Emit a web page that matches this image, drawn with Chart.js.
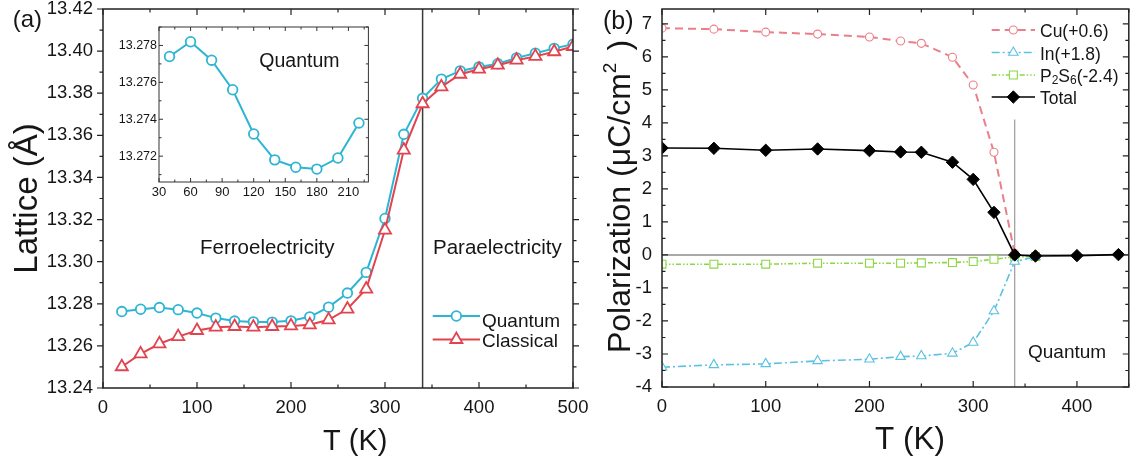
<!DOCTYPE html>
<html>
<head>
<meta charset="utf-8">
<title>Lattice and polarization vs temperature</title>
<script src="https://cdn.jsdelivr.net/npm/chart.js@4.4.1/dist/chart.umd.min.js"></script>
<style>
  html, body { margin: 0; padding: 0; background: #fff; }
  #figure { position: relative; width: 1136px; height: 461px; overflow: hidden; background: #fff; }
  canvas { position: absolute; }
  #latticeChart { left: 0; top: 0; }
  #insetChart { left: 110px; top: 20px; z-index: 2; }
  #polChart { left: 590px; top: 0; }
</style>
</head>
<body>
<div id="figure">
  <canvas id="latticeChart" width="590" height="461"></canvas>
  <canvas id="insetChart" width="265" height="185"></canvas>
  <canvas id="polChart" width="546" height="461"></canvas>
</div>
<script>
const FONT = 'Arial, "Liberation Sans", sans-serif';
const INK = '#161616';

// ---- (a) lattice parameter vs temperature ----
const tempLattice = [20, 40, 60, 80, 100, 120, 140, 160, 180, 200, 220, 240, 260,
                     280, 300, 320, 340, 360, 380, 400, 420, 440, 460, 480, 500];
const latticeQuantum = [13.2763, 13.2774, 13.2782, 13.2772, 13.2756, 13.2732, 13.2718, 13.2714, 13.2713,
                        13.2719, 13.2738, 13.2784, 13.2851, 13.2949, 13.3205, 13.3605, 13.3776, 13.3867,
                        13.3906, 13.3925, 13.3940, 13.3968, 13.3990, 13.4013, 13.4033];
const latticeClassical = [13.2501, 13.2562, 13.2610, 13.2644, 13.2673, 13.2689, 13.2692, 13.2689, 13.2692,
                          13.2695, 13.2700, 13.2724, 13.2775, 13.2870, 13.3150, 13.3530, 13.3750, 13.3830,
                          13.3890, 13.3914, 13.3933, 13.3957, 13.3975, 13.3997, 13.4022];
const latticeXTicks = [0, 100, 200, 300, 400, 500];
const latticeYTicks = [13.24, 13.26, 13.28, 13.30, 13.32, 13.34, 13.36, 13.38, 13.40, 13.42];

// inset: low-temperature part of the quantum curve
const insetTempRange = [40, 220];
const insetXTicks = [30, 60, 90, 120, 150, 180, 210];
const insetYTicks = [13.272, 13.274, 13.276, 13.278];

// ---- (b) polarization vs temperature ----
const tempPol  = [0, 50, 100, 150, 200, 230, 250, 280, 300, 320, 340, 360, 400, 440];
const polCu    = [6.87, 6.84, 6.75, 6.69, 6.60, 6.48, 6.41, 5.99, 5.15, 3.11, 0.05];
const polIn    = [-3.40, -3.33, -3.30, -3.21, -3.16, -3.08, -3.06, -2.98, -2.65, -1.70, -0.20, -0.06];
const polP2S6  = [-0.28, -0.28, -0.28, -0.25, -0.25, -0.25, -0.24, -0.23, -0.20, -0.13, -0.06, -0.05];
const polTotal = [3.24, 3.23, 3.17, 3.21, 3.16, 3.12, 3.11, 2.81, 2.29, 1.29, 0.00, -0.03, -0.02, 0.01];
const polXTicks = [0, 100, 200, 300, 400];
const polYTicks = [-4, -3, -2, -1, 0, 1, 2, 3, 4, 5, 6, 7];

const transitionT = 340;     // ferro/para transition
const transitionTop = 4.1;   // upper end of the transition marker in (b)

const C_QUANTUM = '#2db5d3';
const C_CLASSICAL = '#e2444f';
const C_CU = '#ea7f89';
const C_IN = '#5cc1e2';
const C_P2S6 = '#8bd744';

const pts = (xs, ys) => ys.map((y, i) => ({ x: xs[i], y }));

// midpoints between major ticks, kept inside [min, max]
function minorTicks(majors, min, max) {
  const step = majors[1] - majors[0];
  const out = [];
  for (let v = majors[0] - step / 2; v <= max + 1e-9; v += step) {
    if (v >= min - 1e-9) out.push(v);
  }
  return out;
}

function axis(min, max, ticks, fmt, size, pad, fontSize) {
  return {
    type: 'linear', min, max,
    grid: { display: false, drawTicks: false },
    border: { display: false },
    afterBuildTicks: s => { s.ticks = ticks.map(v => ({ value: v })); },
    afterFit: s => {
      if (s.isHorizontal()) s.height = size; else s.width = size;
      s.paddingLeft = s.paddingRight = s.paddingTop = s.paddingBottom = 0;
    },
    ticks: {
      padding: pad, color: INK, autoSkip: false, maxRotation: 0,
      font: { family: FONT, size: fontSize, lineHeight: 1 },
      callback: fmt
    }
  };
}

// box around the plot area plus major/minor tick marks on all four sides
function drawFrame(chart, o) {
  const { ctx, chartArea: a, scales: { x, y } } = chart;
  ctx.save();
  ctx.strokeStyle = o.color;
  ctx.lineWidth = o.width;
  ctx.strokeRect(a.left, a.top, a.right - a.left, a.bottom - a.top);
  ctx.lineWidth = o.tickWidth;
  ctx.beginPath();
  const xd = o.xDir === 'in' ? 1 : -1;
  const yd = o.yDir === 'in' ? 1 : -1;
  const xMarks = (vals, len) => vals.forEach(v => {
    const p = x.getPixelForValue(v);
    ctx.moveTo(p, a.bottom); ctx.lineTo(p, a.bottom - xd * len);
    ctx.moveTo(p, a.top); ctx.lineTo(p, a.top + xd * len);
  });
  const yMarks = (vals, len) => vals.forEach(v => {
    const p = y.getPixelForValue(v);
    ctx.moveTo(a.left, p); ctx.lineTo(a.left + yd * len, p);
    ctx.moveTo(a.right, p); ctx.lineTo(a.right - yd * len, p);
  });
  xMarks(o.xMajor, o.major);
  xMarks(minorTicks(o.xMajor, x.min, x.max), o.minor);
  yMarks(o.yMajor, o.major);
  yMarks(minorTicks(o.yMajor, y.min, y.max), o.minor);
  ctx.stroke();
  ctx.restore();
}

// text made of runs: {t, size, dy} or {gap}
function runs(ctx, parts, x, y, align) {
  const widths = parts.map(p => {
    if (p.gap) return p.gap;
    ctx.font = p.size + 'px ' + FONT;
    return ctx.measureText(p.t).width;
  });
  const total = widths.reduce((s, w) => s + w, 0);
  let cx = align === 'center' ? x - total / 2 : x;
  ctx.textAlign = 'left';
  ctx.textBaseline = 'alphabetic';
  parts.forEach((p, i) => {
    if (!p.gap) {
      ctx.font = p.size + 'px ' + FONT;
      ctx.fillText(p.t, cx, y + (p.dy || 0));
    }
    cx += widths[i];
  });
}

function text(ctx, t, x, y, size) {
  runs(ctx, [{ t, size }], x, y, 'left');
}

function vtext(ctx, parts, x, y) {
  ctx.save();
  ctx.translate(x, y);
  ctx.rotate(-Math.PI / 2);
  runs(ctx, parts, 0, 0, 'center');
  ctx.restore();
}

function legendSample(ctx, x0, x1, y, s) {
  ctx.save();
  ctx.strokeStyle = s.color;
  ctx.lineWidth = s.lineWidth;
  ctx.setLineDash(s.dash || []);
  ctx.beginPath(); ctx.moveTo(x0, y); ctx.lineTo(x1, y); ctx.stroke();
  ctx.setLineDash([]);
  ctx.fillStyle = s.fill;
  ctx.lineWidth = s.pointBorder;
  Chart.helpers.drawPoint(ctx, { pointStyle: s.style, radius: s.radius, borderWidth: s.pointBorder, rotation: 0 }, (x0 + x1) / 2, y);
  ctx.restore();
}

const baseOptions = {
  responsive: false,
  animation: false,
  events: [],
  plugins: { legend: { display: false }, tooltip: { enabled: false } }
};

// ---------- panel (a) ----------
const quantumStyle = { color: C_QUANTUM, lineWidth: 2, style: 'circle', radius: 4.8, pointBorder: 1.8, fill: '#fff' };
const classicalStyle = { color: C_CLASSICAL, lineWidth: 2, style: 'triangle', radius: 7, pointBorder: 1.8, fill: '#fff' };

function series(label, data, s, extra) {
  return Object.assign({
    label, data,
    borderColor: s.color, borderWidth: s.lineWidth, borderDash: s.dash || [],
    pointStyle: s.style, pointRadius: s.radius, pointBorderWidth: s.pointBorder,
    pointBorderColor: s.color, pointBackgroundColor: s.fill, backgroundColor: s.fill
  }, extra || {});
}

const latticeDecor = {
  id: 'latticeDecor',
  beforeDatasetsDraw(chart) {
    const { ctx, chartArea: a, scales: { x } } = chart;
    const px = x.getPixelForValue(transitionT);
    ctx.save();
    ctx.strokeStyle = '#3a3a3a';
    ctx.lineWidth = 1.5;
    ctx.beginPath(); ctx.moveTo(px, a.top); ctx.lineTo(px, a.bottom); ctx.stroke();
    ctx.restore();
  },
  afterDatasetsDraw(chart) {
    drawFrame(chart, { color: '#222', width: 1.5, tickWidth: 1.2, major: 6, minor: 3.5,
      xDir: 'in', yDir: 'out', xMajor: latticeXTicks, yMajor: latticeYTicks });
  },
  afterDraw(chart) {
    const { ctx } = chart;
    ctx.save();
    ctx.fillStyle = INK;
    text(ctx, '(a)', 12.7, 26.7, 24);
    text(ctx, 'Ferroelectricity', 200, 254, 20.5);
    text(ctx, 'Paraelectricity', 433, 254, 20.5);
    text(ctx, 'T (K)', 323, 450, 29);
    vtext(ctx, [{ t: 'Lattice (Å)', size: 33 }], 36.7, 198.5);
    legendSample(ctx, 432.7, 480, 316, quantumStyle);
    legendSample(ctx, 432.7, 480, 339.5, classicalStyle);
    ctx.fillStyle = INK;
    text(ctx, 'Quantum', 482, 326.5, 19);
    text(ctx, 'Classical', 482, 347, 19);
    ctx.restore();
  }
};

new Chart(document.getElementById('latticeChart'), {
  type: 'line',
  data: {
    datasets: [
      series('Quantum', pts(tempLattice, latticeQuantum), quantumStyle, { order: 1 }),
      series('Classical', pts(tempLattice, latticeClassical), classicalStyle, { order: 0 })
    ]
  },
  options: Object.assign({}, baseOptions, {
    layout: { padding: { top: 9, right: 17, left: 0, bottom: 0 } },
    scales: {
      x: axis(0, 500, latticeXTicks, v => String(v), 73, 11, 18.5),
      y: axis(13.24, 13.42, latticeYTicks, v => v.toFixed(2), 103, 10, 18.5)
    }
  }),
  plugins: [latticeDecor]
});

// ---------- inset ----------
const insetTemps = tempLattice.filter(t => t >= insetTempRange[0] && t <= insetTempRange[1]);
const insetValues = insetTemps.map(t => latticeQuantum[tempLattice.indexOf(t)]);

const insetDecor = {
  id: 'insetDecor',
  afterDatasetsDraw(chart) {
    drawFrame(chart, { color: '#333', width: 1, tickWidth: 1, major: 4, minor: 2.5,
      xDir: 'in', yDir: 'in', xMajor: insetXTicks, yMajor: insetYTicks });
  },
  afterDraw(chart) {
    const { ctx } = chart;
    ctx.save();
    ctx.fillStyle = INK;
    text(ctx, 'Quantum', 149.3, 46.5, 19.5);
    ctx.restore();
  }
};

new Chart(document.getElementById('insetChart'), {
  type: 'line',
  data: {
    datasets: [series('Quantum', pts(insetTemps, insetValues), quantumStyle)]
  },
  options: Object.assign({}, baseOptions, {
    layout: { padding: { top: 7, right: 6, left: 0, bottom: 0 } },
    scales: {
      x: axis(30, 229, insetXTicks, v => String(v), 23, 4, 13),
      y: axis(13.2706, 13.2790, insetYTicks, v => v.toFixed(3), 49, 2, 12.5)
    }
  }),
  plugins: [insetDecor]
});

// ---------- panel (b) ----------
const cuStyle = { color: C_CU, lineWidth: 2, dash: [8, 5], style: 'circle', radius: 4, pointBorder: 1.1, fill: '#fff' };
const inStyle = { color: C_IN, lineWidth: 1.6, dash: [8, 3, 2, 3], style: 'triangle', radius: 5.5, pointBorder: 1.1, fill: '#fff' };
const p2s6Style = { color: C_P2S6, lineWidth: 1.6, dash: [5, 2, 1.5, 2, 1.5, 2], style: 'rect', radius: 5.6, pointBorder: 1.1, fill: '#fff' };
const totalStyle = { color: '#000', lineWidth: 1.6, style: 'rectRot', radius: 6.2, pointBorder: 1, fill: '#000' };

const polDecor = {
  id: 'polDecor',
  beforeDatasetsDraw(chart) {
    const { ctx, chartArea: a, scales: { x, y } } = chart;
    const y0 = y.getPixelForValue(0);
    const px = x.getPixelForValue(transitionT);
    ctx.save();
    ctx.strokeStyle = '#8c8c8c';
    ctx.lineWidth = 1.5;
    ctx.beginPath(); ctx.moveTo(a.left, y0); ctx.lineTo(a.right, y0); ctx.stroke();
    ctx.strokeStyle = '#9a9a9a';
    ctx.lineWidth = 1.2;
    ctx.beginPath(); ctx.moveTo(px, y.getPixelForValue(transitionTop)); ctx.lineTo(px, a.bottom); ctx.stroke();
    ctx.restore();
  },
  afterDatasetsDraw(chart) {
    drawFrame(chart, { color: '#222', width: 1.5, tickWidth: 1.2, major: 6, minor: 3.5,
      xDir: 'in', yDir: 'in', xMajor: polXTicks, yMajor: polYTicks });
  },
  afterDraw(chart) {
    const { ctx } = chart;
    ctx.save();
    ctx.fillStyle = INK;
    text(ctx, '(b)', 13, 28.5, 25);
    text(ctx, 'T (K)', 285, 448.5, 31.5);
    vtext(ctx, [
      { t: 'Polarization (μC/cm', size: 32 },
      { t: '2', size: 19, dy: -14 },
      { gap: 12 },
      { t: ')', size: 32 }
    ], 40, 196.5);
    text(ctx, 'Quantum', 438, 358, 19);

    const x0 = 401.7, x1 = 445, tx = 450;
    legendSample(ctx, x0, x1, 30, cuStyle);
    legendSample(ctx, x0, x1, 52.5, inStyle);
    legendSample(ctx, x0, x1, 75, p2s6Style);
    legendSample(ctx, x0, x1, 97, totalStyle);
    ctx.fillStyle = INK;
    text(ctx, 'Cu(+0.6)', tx, 37, 17.5);
    text(ctx, 'In(+1.8)', tx, 59.5, 17.5);
    runs(ctx, [
      { t: 'P', size: 17.5 }, { t: '2', size: 12, dy: 2 },
      { t: 'S', size: 17.5 }, { t: '6', size: 12, dy: 2 },
      { t: '(-2.4)', size: 17.5 }
    ], tx, 82, 'left');
    text(ctx, 'Total', tx, 104, 17.5);
    ctx.restore();
  }
};

new Chart(document.getElementById('polChart'), {
  type: 'line',
  data: {
    datasets: [
      series('Cu(+0.6)', pts(tempPol, polCu), cuStyle, { order: 1, clip: 0 }),
      series('In(+1.8)', pts(tempPol, polIn), inStyle, { order: 2, clip: 0 }),
      series('P2S6(-2.4)', pts(tempPol, polP2S6), p2s6Style, { order: 3, clip: 0 }),
      series('Total', pts(tempPol, polTotal), totalStyle, { order: 0, clip: 0 })
    ]
  },
  options: Object.assign({}, baseOptions, {
    layout: { padding: { top: 9, right: 6, left: 0, bottom: 0 } },
    scales: {
      x: axis(0, 450, polXTicks, v => String(v), 74, 11, 18.5),
      y: axis(-4, 7.45, polYTicks, v => String(v), 72, 10, 18.5)
    }
  }),
  plugins: [polDecor]
});
</script>
</body>
</html>
